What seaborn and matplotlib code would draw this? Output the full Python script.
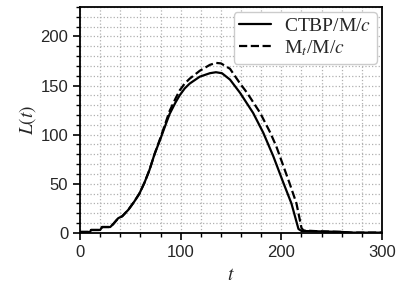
import matplotlib
matplotlib.use("Agg")
import matplotlib.pyplot as plt
import seaborn as sns
import pandas as pd
from matplotlib.ticker import MultipleLocator

# Data
t_ctbp = [0, 10, 11, 20, 22, 30, 33, 38, 42, 48, 54, 59, 64, 69, 74, 80, 85, 89, 95, 99, 104, 109,
          119, 129, 135, 141, 149, 159, 172, 182, 192, 202, 210, 217, 220, 240, 260, 270, 300]
L_ctbp = [1, 1, 3, 3, 6, 6, 9, 15, 17, 23.5, 32, 40, 51, 64, 80, 96, 110, 121, 133, 140, 147, 152,
          159, 162.5, 163.5, 162.5, 156, 142.5, 122, 102, 78, 51, 30, 4, 2, 1.5, 1, 0.3, 0.3]

t_mt = [0, 10, 11, 20, 22, 30, 33, 38, 42, 48, 54, 59, 64, 69, 74, 80, 85, 89, 95, 99, 104, 109,
        119, 129, 135, 140, 149, 159, 166, 179, 189, 195, 208, 215, 220, 222, 240, 260, 270, 300]
L_mt = [1, 1, 3, 3, 6, 6, 9, 15, 17, 23.5, 32, 40, 51, 64, 80, 97, 112, 124, 137, 145, 152, 157,
        165, 171, 173, 172.5, 167, 152, 142.5, 122, 102, 88, 51, 30, 5, 2.5, 1.5, 1, 0.3, 0.3]

labels = [r"CTBP/M/$c$", r"M$_t$/M/$c$"]

sns.set_style("ticks")
plt.rcParams["font.family"] = ["Liberation Sans", "DejaVu Sans"]
plt.rcParams["mathtext.fontset"] = "stix"

fig = plt.figure(figsize=(4.06, 2.99), dpi=100)
ax = fig.add_axes([0.197, 0.221, 0.744, 0.756])

df1 = pd.DataFrame({"t": t_ctbp, "L": L_ctbp})
df2 = pd.DataFrame({"t": t_mt, "L": L_mt})
sns.lineplot(data=df1, x="t", y="L", ax=ax, color="black", lw=1.6, label=labels[0],
             sort=False, estimator=None)
sns.lineplot(data=df2, x="t", y="L", ax=ax, color="black", lw=1.6, ls="--", label=labels[1],
             sort=False, estimator=None)

ax.set_xlim(0, 300)
ax.set_ylim(0, 230)
ax.xaxis.set_major_locator(MultipleLocator(100))
ax.xaxis.set_minor_locator(MultipleLocator(20))
ax.yaxis.set_major_locator(MultipleLocator(50))
ax.yaxis.set_minor_locator(MultipleLocator(10))
ax.grid(True, which="both", ls=":", color="#b0b0b0", lw=0.9)
ax.set_axisbelow(True)
for s in ax.spines.values():
    s.set_linewidth(1.3)
    s.set_color("black")
ax.tick_params(which="major", direction="out", length=5, width=1.2, labelsize=12, color="black")
ax.tick_params(which="minor", direction="out", length=3, width=1.0, color="black")
ax.set_xlabel(r"$t$", fontsize=14, labelpad=5)
ax.set_ylabel(r"$L(t)$", fontsize=14, labelpad=2)

leg = ax.legend(loc="upper right", prop={"family": "Liberation Serif", "size": 14},
                frameon=True, fancybox=True, edgecolor="#cccccc", framealpha=1,
                handlelength=1.6, borderpad=0.3, labelspacing=0.15, handletextpad=0.7,
                borderaxespad=0.25)
leg.get_frame().set_linewidth(1.0)

fig.savefig("out.png", dpi=100)
